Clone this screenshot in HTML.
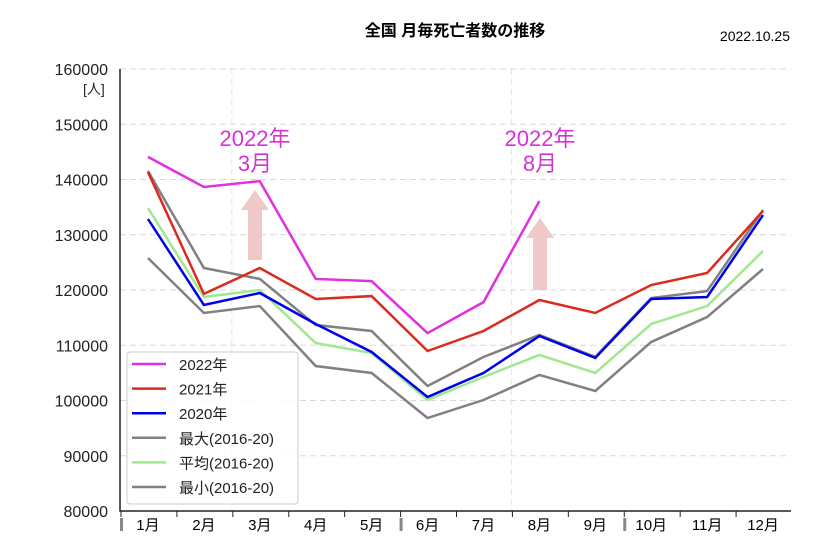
<!DOCTYPE html>
<html><head><meta charset="utf-8"><style>
body{margin:0;background:#fff;width:828px;height:539px;overflow:hidden}
svg text{font-family:"Liberation Sans","Noto Sans CJK JP",sans-serif}
</style></head><body>
<svg id="c" width="828" height="539"></svg>
<script>
const months=["1月","2月","3月","4月","5月","6月","7月","8月","9月","10月","11月","12月"];
const s2022=[144100,138640,139700,122000,121600,112200,117800,136100];
const s2021=[141350,119300,123980,118370,118900,108960,112580,118190,115840,120900,123080,134300];
const s2020=[132850,117300,119460,113850,108780,100630,104980,111670,107700,118370,118730,133570];
const sMax=[141540,123980,122000,113660,112580,102620,107870,111850,107900,118550,119800,134480];
const sAvg=[134840,118730,119990,110400,108600,100100,104250,108240,104980,113850,117100,127060];
const sMin=[125790,115840,117100,106240,104980,96830,100090,104620,101720,110590,115110,123800];
const yTicks=[80000,90000,100000,110000,120000,130000,140000,150000,160000];
const L=120,R=791,T=69,B=511,yMin=80000,yMax=160000;
const bw=(R-L)/months.length;
const X=i=>L+bw*(i+0.5);
const Y=v=>B-(v-yMin)/(yMax-yMin)*(B-T);
const svg=document.getElementById('c');const NS='http://www.w3.org/2000/svg';
function add(tag,attrs,txt){const e=document.createElementNS(NS,tag);for(const k in attrs)e.setAttribute(k,attrs[k]);if(txt!==undefined)e.textContent=txt;svg.appendChild(e);return e;}
let e;
e=add('text',{x:455,y:36,'text-anchor':'middle','font-size':16,'font-weight':'bold'},'全国 月毎死亡者数の推移');


e=add('text',{x:790,y:41,'text-anchor':'end','font-size':14},'2022.10.25');


yTicks.forEach(v=>{
 if(v>yMin){e=add('line',{x1:L,x2:R,y1:Y(v),y2:Y(v),stroke:'#d8d8d8','stroke-dasharray':'6,4'});
 
 }
 e=add('text',{x:108,y:Y(v)+6,'text-anchor':'end','font-size':16,fill:'#222'},String(v));
 
 
});
[2,7].forEach(i=>{e=add('line',{x1:L+bw*i,x2:L+bw*i,y1:T,y2:B,stroke:'#e4e4e4','stroke-dasharray':'6,4'});

});
e=add('text',{x:83,y:94,'font-size':14,fill:'#222'},'[人]');


e=add('path',{d:`M${L} ${T}V${B}H${R}`,fill:'none',stroke:'#222','stroke-width':1.5});


months.forEach((m,i)=>{
 e=add('line',{x1:L+bw*i+1,x2:L+bw*i+1,y1:B,y2:B+6,stroke:'#222'});
 
 
 e=add('text',{x:X(i),y:B+19,'text-anchor':'middle','font-size':15},m);
 
 
});
[0,5,9].forEach(i=>{e=add('rect',{x:L+bw*i,y:B+7,width:3,height:13,fill:'#888'});

});
// arrows
[[255,260,190],[540,290,218]].forEach(a=>{
 e=add('path',{d:`M${a[0]-7} ${a[1]}V${a[2]+20}H${a[0]-14}L${a[0]} ${a[2]}L${a[0]+14} ${a[2]+20}H${a[0]+7}V${a[1]}Z`,fill:'#f0c8c8'});
 
 
});
[[255,'3月'],[540,'8月']].forEach(a=>{
 e=add('text',{x:a[0],y:146,'text-anchor':'middle','font-size':22,fill:'#d633d6'},'2022年');
 
 
 e=add('text',{x:a[0],y:171,'text-anchor':'middle','font-size':22,fill:'#d633d6'},a[1]);
 
 
});
const series=[[sMin,'#808080','series-min'],[sAvg,'#a0e890','series-avg'],[sMax,'#808080','series-max'],[s2020,'#0000ee','series-2020'],[s2021,'#dd2a1a','series-2021'],[s2022,'#e030e0','series-2022']];
series.forEach(s=>{
 e=add('polyline',{points:s[0].map((v,i)=>X(i)+','+Y(v)).join(' '),fill:'none',stroke:s[1],'stroke-width':2.5});
 
 
});
e=add('rect',{x:127,y:352,width:171,height:152,rx:3,fill:'rgba(255,255,255,0.85)',stroke:'#ccc'});


const legLabels=['2022年','2021年','2020年','最大(2016-20)','平均(2016-20)','最小(2016-20)'];
const legColors=['#e030e0','#dd2a1a','#0000ee','#808080','#a0e890','#808080'];
legLabels.forEach((t,i)=>{
 const y=364+i*24.6;
 e=add('line',{x1:132,x2:166,y1:y,y2:y,stroke:legColors[i],'stroke-width':2.5});
 
 
 e=add('text',{x:179,y:y+6,'font-size':15,fill:'#222'},t);
 
 
});
</script>
</body></html>
